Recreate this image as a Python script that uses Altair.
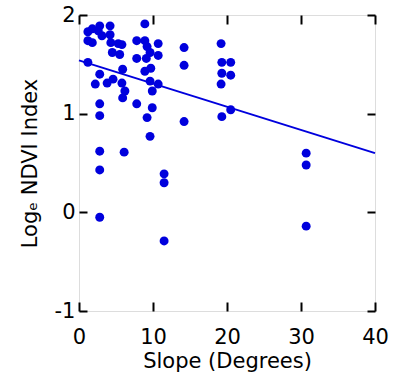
import altair as alt
import pandas as pd

slope = [1.2, 1.2, 1.8, 1.8, 2.6, 2.8, 3.1, 4.2, 4.2, 4.3, 5.3, 5.8, 4.5, 5.5,
         8.9, 7.8, 8.9, 9.2, 10.7, 9.6, 10.7, 7.8, 9.1, 14.2, 14.2, 1.2, 5.9,
         2.8, 8.9, 9.7, 2.2, 3.8, 4.6, 5.8, 6.2, 5.9, 9.6, 9.9, 10.7, 2.8, 7.8,
         9.9, 2.8, 9.2, 14.2, 9.6, 2.8, 6.1, 2.8, 11.5, 11.5, 2.8, 11.5,
         19.2, 19.3, 20.5, 19.3, 20.5, 19.2, 20.5, 19.3, 30.7, 30.7, 30.7]
ndvi = [1.83, 1.74, 1.72, 1.86, 1.84, 1.89, 1.79, 1.89, 1.80, 1.72, 1.71, 1.70,
        1.62, 1.60, 1.91, 1.74, 1.74, 1.68, 1.71, 1.62, 1.59, 1.56, 1.56, 1.67,
        1.49, 1.52, 1.45, 1.40, 1.43, 1.46, 1.30, 1.31, 1.35, 1.31, 1.23, 1.16,
        1.33, 1.23, 1.30, 1.10, 1.10, 1.06, 0.98, 0.96, 0.92, 0.77, 0.62, 0.61,
        0.43, 0.39, 0.30, -0.05, -0.29,
        1.71, 1.52, 1.52, 1.41, 1.39, 1.30, 1.04, 0.97, 0.60, 0.48, -0.14]

line_x = [0, 40]
line_y = [1.54, 0.60]

x_ticks = [0, 10, 20, 30, 40]
y_ticks = [-1, 0, 1, 2]

BLUE = "#0000dd"
FONT = "DejaVu Sans"

pts = pd.DataFrame({"x": slope, "y": ndvi})
ln = pd.DataFrame({"x": line_x, "y": line_y})

xs = alt.Scale(domain=[0, 40], nice=False)
ys = alt.Scale(domain=[-1, 2], nice=False)

label_x_axis = alt.Axis(values=x_ticks, title="Slope (Degrees)", ticks=False, tickSize=0,
                        domain=False, grid=False, labelPadding=15, titlePadding=3,
                        labelFontSize=21, titleFontSize=21, labelFont=FONT, titleFont=FONT,
                        labelColor="black", titleColor="black", titleFontWeight="normal",
                        labelFlush=False)
label_y_axis = alt.Axis(values=y_ticks, title="Logₑ NDVI Index", ticks=False, tickSize=0,
                        domain=False, grid=False, labelPadding=4, titlePadding=14,
                        labelFontSize=21, titleFontSize=21, labelFont=FONT, titleFont=FONT,
                        labelColor="black", titleColor="black", titleFontWeight="normal",
                        labelFlush=False,
                        labelExpr="replace(datum.label, '\u2212', '-')")


def tick_axis(orient, values, size):
    return alt.Axis(orient=orient, values=values, labels=False, title=None, domain=False,
                    grid=False, ticks=True, tickSize=size, offset=-size,
                    tickWidth=2, tickColor="black")


points = alt.Chart(pts).mark_circle(size=80, opacity=1, color=BLUE).encode(
    x=alt.X("x:Q", scale=xs, axis=label_x_axis),
    y=alt.Y("y:Q", scale=ys, axis=label_y_axis),
)

line1 = alt.Chart(ln).mark_line(color=BLUE, strokeWidth=2).encode(
    x=alt.X("x:Q", scale=xs, axis=tick_axis("bottom", x_ticks, 9)),
    y=alt.Y("y:Q", scale=ys, axis=tick_axis("left", y_ticks, 8)),
)

line2 = alt.Chart(ln).mark_line(color=BLUE, strokeWidth=2, opacity=0).encode(
    x=alt.X("x:Q", scale=xs, axis=tick_axis("top", x_ticks, 9)),
    y=alt.Y("y:Q", scale=ys, axis=tick_axis("right", y_ticks, 8)),
)

chart = alt.layer(line1, line2, points).resolve_axis(
    x="independent", y="independent"
).properties(
    width=296, height=296,
    autosize=alt.AutoSizeParams(type="none"),
    padding={"left": 79, "top": 15, "right": 18, "bottom": 72},
).configure_view(
    stroke="black", strokeWidth=2
).configure(background="white")

chart.save("out.html", embed_options={"renderer": "svg", "actions": False})
